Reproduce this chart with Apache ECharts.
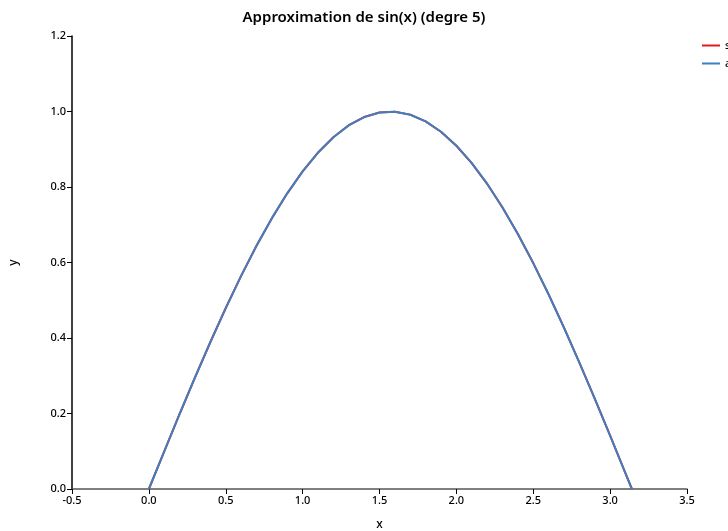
<!DOCTYPE html>
<html><head><meta charset="utf-8">
<script src="https://cdn.jsdelivr.net/npm/echarts@6/dist/echarts.min.js"></script>
<style>html,body{margin:0;padding:0;background:#fff}#c{width:728px;height:531px}</style>
</head><body><div id="c"></div>
<script>
const xValues = [0, 0.1, 0.2, 0.3, 0.4, 0.5, 0.6, 0.7, 0.8, 0.9, 1.0, 1.1, 1.2, 1.3, 1.4, 1.5, 1.6, 1.7, 1.8, 1.9, 2.0, 2.1, 2.2, 2.3, 2.4, 2.5, 2.6, 2.7, 2.8, 2.9, 3.0, 3.1, 3.1416];
const sinValues = [0, 0.0998, 0.1987, 0.2955, 0.3894, 0.4794, 0.5646, 0.6442, 0.7174, 0.7833, 0.8415, 0.8912, 0.9320, 0.9636, 0.9854, 0.9975, 0.9996, 0.9917, 0.9738, 0.9463, 0.9093, 0.8632, 0.8085, 0.7457, 0.6755, 0.5985, 0.5155, 0.4274, 0.3350, 0.2392, 0.1411, 0.0416, 0];
const approxValues = [0.0000, 0.0999, 0.1988, 0.2954, 0.3892, 0.4793, 0.5646, 0.6443, 0.7175, 0.7833, 0.8413, 0.8909, 0.9316, 0.9632, 0.9851, 0.9972, 0.9993, 0.9915, 0.9737, 0.9463, 0.9094, 0.8634, 0.8087, 0.7458, 0.6755, 0.5984, 0.5153, 0.4272, 0.3349, 0.2392, 0.1412, 0.0417, 0.0000];
const seriesNames = ['sin(x)', 'approximation'];
const titleText = 'Approximation de sin(x) (degre 5)';

const font = 'Noto Sans';
const chart = echarts.init(document.getElementById('c'), null, {renderer: 'canvas'});
chart.setOption({
  animation: false,
  backgroundColor: '#fff',
  textStyle: {fontFamily: font},
  title: {text: titleText, left: 'center', top: 5,
    textStyle: {fontFamily: font, fontSize: 15, fontWeight: 600, color: '#000'}},
  legend: {left: 697, top: 35, orient: 'vertical', itemWidth: 18, itemHeight: 2, itemGap: 7,
    icon: 'rect', textStyle: {fontFamily: font, fontSize: 11, color: '#000', fontWeight: 500},
    data: seriesNames},
  grid: {left: 72, right: 41, top: 36, bottom: 42, containLabel: false, outerBoundsMode: 'none'},
  xAxis: {type: 'value', min: -0.5, max: 3.5, interval: 0.5,
    name: 'x', nameLocation: 'middle', nameGap: 30,
    nameTextStyle: {fontFamily: font, fontSize: 12, color: '#000', fontWeight: 500},
    axisLine: {show: true, onZero: false, lineStyle: {color: '#555', width: 1.5}},
    axisTick: {show: true, length: 5, lineStyle: {color: '#000'}},
    axisLabel: {fontFamily: font, fontSize: 11, color: '#000', margin: 6, fontWeight: 500,
      formatter: v => v.toFixed(1)},
    splitLine: {show: false}},
  yAxis: {type: 'value', min: 0, max: 1.2, interval: 0.2,
    name: 'y', nameLocation: 'middle', nameGap: 52, nameRotate: 90,
    nameTextStyle: {fontFamily: font, fontSize: 12, color: '#000', fontWeight: 500},
    axisLine: {show: true, onZero: false, lineStyle: {color: '#000', width: 1.5}},
    axisTick: {show: true, length: 5, lineStyle: {color: '#000'}},
    axisLabel: {fontFamily: font, fontSize: 11, color: '#000', margin: 6, fontWeight: 500,
      formatter: v => v.toFixed(1)},
    splitLine: {show: false}},
  series: [
    {name: seriesNames[0], type: 'line', showSymbol: false, symbol: 'none',
      data: xValues.map((x, i) => [x, sinValues[i]]),
      lineStyle: {color: '#e41a1c', width: 2}, itemStyle: {color: '#e41a1c'}},
    {name: seriesNames[1], type: 'line', showSymbol: false, symbol: 'none',
      data: xValues.map((x, i) => [x, approxValues[i]]),
      lineStyle: {color: '#3f7fc1', width: 2}, itemStyle: {color: '#3f7fc1'}}
  ]
});
</script></body></html>
